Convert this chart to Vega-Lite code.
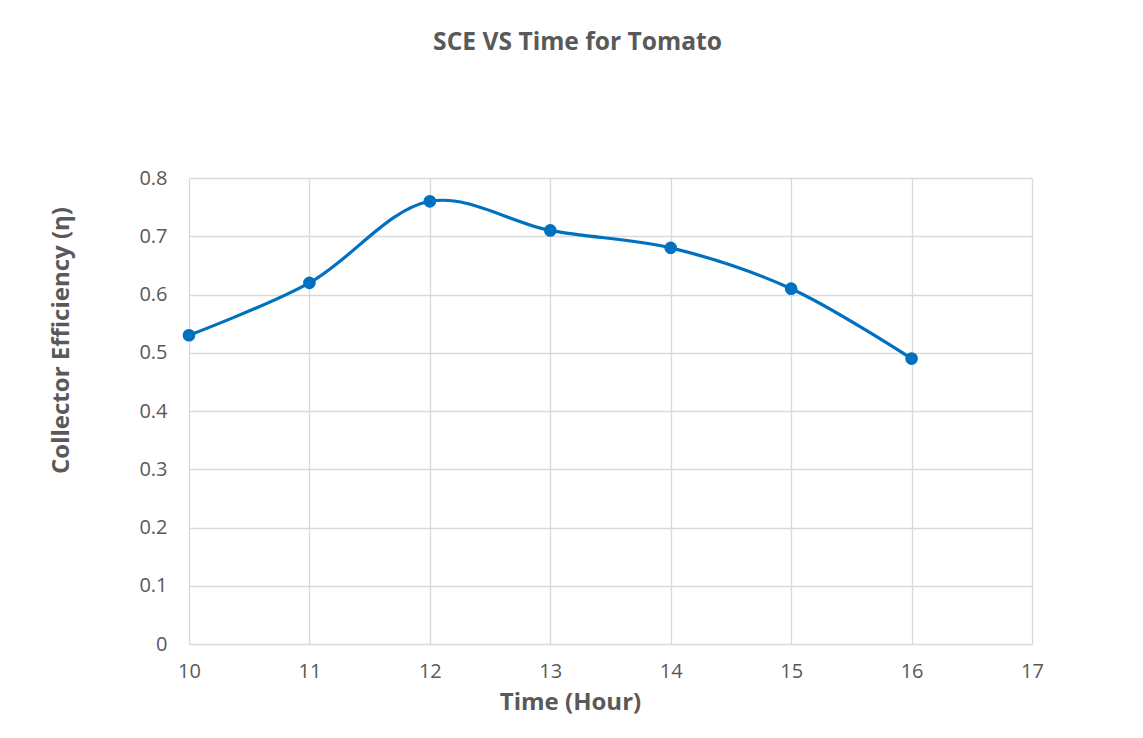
{
  "$schema": "https://vega.github.io/schema/vega-lite/v6.json",
  "autosize": {"type": "none"},
  "width": 843,
  "height": 466,
  "padding": {"left": 189, "top": 178, "right": 111, "bottom": 94},
  "background": "white",
  "title": {
    "text": "SCE VS Time for Tomato",
    "anchor": "middle",
    "dx": -33,
    "offset": 112,
    "font": "Open Sans",
    "fontSize": 24.6,
    "fontWeight": "bold",
    "color": "#595959"
  },
  "data": {
    "values": [
      {"time": 10, "eff": 0.53},
      {"time": 11, "eff": 0.62},
      {"time": 12, "eff": 0.76},
      {"time": 13, "eff": 0.71},
      {"time": 14, "eff": 0.68},
      {"time": 15, "eff": 0.61},
      {"time": 16, "eff": 0.49}
    ]
  },
  "config": {
    "view": {"stroke": null},
    "axis": {
      "labelFont": "Open Sans",
      "labelFontSize": 20,
      "labelColor": "#595959",
      "titleFont": "Open Sans",
      "titleFontSize": 24,
      "titleFontWeight": "bold",
      "titleColor": "#595959",
      "gridColor": "#d9d9d9",
      "gridWidth": 1.3,
      "ticks": false,
      "domain": false,
      "labelFlush": false
    }
  },
  "encoding": {
    "x": {
      "field": "time",
      "type": "quantitative",
      "scale": {"domain": [10, 17], "nice": false, "zero": false},
      "axis": {"values": [10, 11, 12, 13, 14, 15, 16, 17], "title": "Time (Hour)", "labelPadding": 17, "titlePadding": 9, "titleX": 381}
    },
    "y": {
      "field": "eff",
      "type": "quantitative",
      "scale": {"domain": [0, 0.8], "nice": false},
      "axis": {"values": [0, 0.1, 0.2, 0.3, 0.4, 0.5, 0.6, 0.7, 0.8], "format": "~g", "title": "Collector Efficiency (η)", "labelPadding": 22, "titlePadding": 65, "titleY": 162}
    }
  },
  "layer": [
    {"mark": {"type": "line", "interpolate": "catmull-rom", "color": "#0070C0", "strokeWidth": 3.2}},
    {"mark": {"type": "point", "filled": true, "opacity": 1, "color": "#0070C0", "size": 160}}
  ]
}
